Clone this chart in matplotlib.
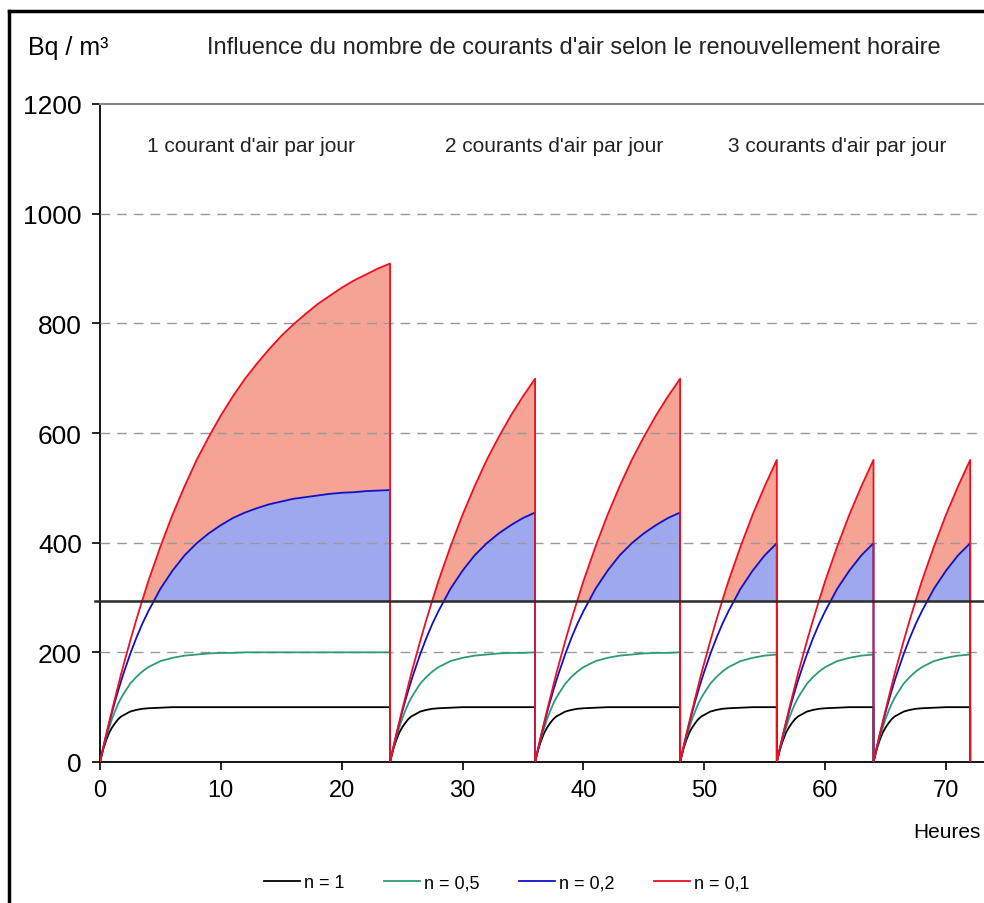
import numpy as np
import matplotlib
matplotlib.use("Agg")
import matplotlib.pyplot as plt
from matplotlib.lines import Line2D

plt.rcParams['font.family'] = ['Liberation Sans', 'DejaVu Sans']

# concentration build-up after a draught (hours since the draught)
heures = [0, 0.25, 0.5, 0.75, 1, 1.25, 1.5, 1.75, 2, 2.5, 3, 3.5, 4, 5, 6, 7, 8, 9, 10, 11,
          12, 13, 14, 15, 16, 17, 18, 19, 20, 21, 22, 23, 24]
c_n1 = [0, 22, 39, 53, 63, 71, 78, 83, 86, 92, 95, 97, 98, 99, 100, 100, 100, 100, 100, 100,
        100, 100, 100, 100, 100, 100, 100, 100, 100, 100, 100, 100, 100]
c_n05 = [0, 24, 44, 62, 79, 93, 106, 117, 126, 143, 155, 165, 173, 184, 190, 194, 196, 198, 199, 199,
         200, 200, 200, 200, 200, 200, 200, 200, 200, 200, 200, 200, 200]
c_n02 = [0, 24, 48, 70, 91, 111, 130, 148, 165, 197, 226, 252, 275, 316, 349, 377, 399, 417, 432, 445,
         455, 463, 470, 475, 480, 483, 486, 489, 491, 492, 494, 495, 496]
c_n01 = [0, 25, 49, 72, 95, 117, 139, 161, 181, 221, 259, 295, 330, 393, 451, 503, 551, 593, 632, 667,
         699, 727, 753, 777, 798, 817, 835, 850, 865, 878, 889, 900, 909]

# draughts: start hour and duration of each period
debuts = [0, 24, 36, 48, 56, 64]
durees = [24, 12, 12, 8, 8, 8]

seuil = 294  # reference level (horizontal line)

labels = ['n = 1', 'n = 0,5', 'n = 0,2', 'n = 0,1']
couleurs = ['#000000', '#2e9a78', '#1010cc', '#ee1020']
annotations = ["1 courant d'air par jour", "2 courants d'air par jour", "3 courants d'air par jour"]
annot_x = [12.5, 37.6, 61.0]


def serie(valeurs):
    # chain the build-up curve over every period, dropping back to 0 at each draught
    t_all, v_all = [], []
    for d, L in zip(debuts, durees):
        for h, v in zip(heures, valeurs):
            if h <= L:
                t_all.append(d + h)
                v_all.append(v)
        t_all.append(d + L)
        v_all.append(0)
    return np.array(t_all, dtype=float), np.array(v_all, dtype=float)


fig = plt.figure(figsize=(9.84, 9.04), dpi=100)
ax = fig.add_axes([100 / 984, 141 / 904, 1 - 100 / 984, 658 / 904])

xmax = (984 - 100) / 12.086
ax.set_xlim(0, xmax)
ax.set_ylim(0, 1200)

t1, v1 = serie(c_n1)
t05, v05 = serie(c_n05)
t02, v02 = serie(c_n02)
t01, v01 = serie(c_n01)

ax.fill_between(t01, seuil, v01, where=v01 > seuil, interpolate=True,
                color='#f4a394', lw=0, zorder=1)
ax.fill_between(t02, seuil, v02, where=v02 > seuil, interpolate=True,
                color='#9ea8ef', lw=0, zorder=2)

for (t, v), lab, c in zip([(t1, v1), (t05, v05), (t02, v02), (t01, v01)], labels, couleurs):
    ax.plot(t, v, color=c, lw=1.3, label=lab, zorder=4)

ax.plot([-0.45, xmax], [seuil, seuil], color='#2a2a2a', lw=1.8, clip_on=False, zorder=5)

# grid
for y in [200, 400, 600, 800, 1000]:
    ax.axhline(y, color='#999999', lw=1, ls=(0, (7, 5)), zorder=3)

ax.spines['right'].set_visible(False)
ax.spines['top'].set_color('#888888')
ax.spines['top'].set_linewidth(1.5)
ax.spines['left'].set_linewidth(1.3)
ax.spines['bottom'].set_linewidth(1.3)

ax.set_yticks([0, 200, 400, 600, 800, 1000, 1200])
ax.set_xticks([0, 10, 20, 30, 40, 50, 60, 70])
ax.tick_params(axis='y', direction='out', length=6, width=1.2, labelsize=19, pad=7)
ax.tick_params(axis='x', direction='out', length=6, width=1.2, labelsize=17, pad=6)

for txt, x in zip(annotations, annot_x):
    ax.text(x, 1124, txt, ha='center', va='center', fontsize=15, color='#222222')

fig.text(28 / 984, 1 - 48 / 904, 'Bq / m³', fontsize=18, va='center', ha='left')
fig.text(207 / 984, 1 - 48 / 904,
         "Influence du nombre de courants d'air selon le renouvellement horaire",
         fontsize=17, va='center', ha='left', color='#222222')
fig.text(981 / 984, 1 - 833 / 904, 'Heures', fontsize=15, va='center', ha='right')

fig.legend(loc='center', bbox_to_anchor=(0.515, 1 - 884 / 904), ncol=4, frameon=False,
           fontsize=13, handlelength=2.0, handletextpad=0.2, columnspacing=2.2)

# outer frame (cropped at right and bottom)
fig.add_artist(Line2D([9 / 984, 9 / 984], [0, 1 - 12 / 904], color='black', lw=2.5,
                      transform=fig.transFigure))
fig.add_artist(Line2D([9 / 984, 1], [1 - 12 / 904, 1 - 12 / 904], color='black', lw=2.5,
                      transform=fig.transFigure))

fig.savefig('out.png', dpi=100)
